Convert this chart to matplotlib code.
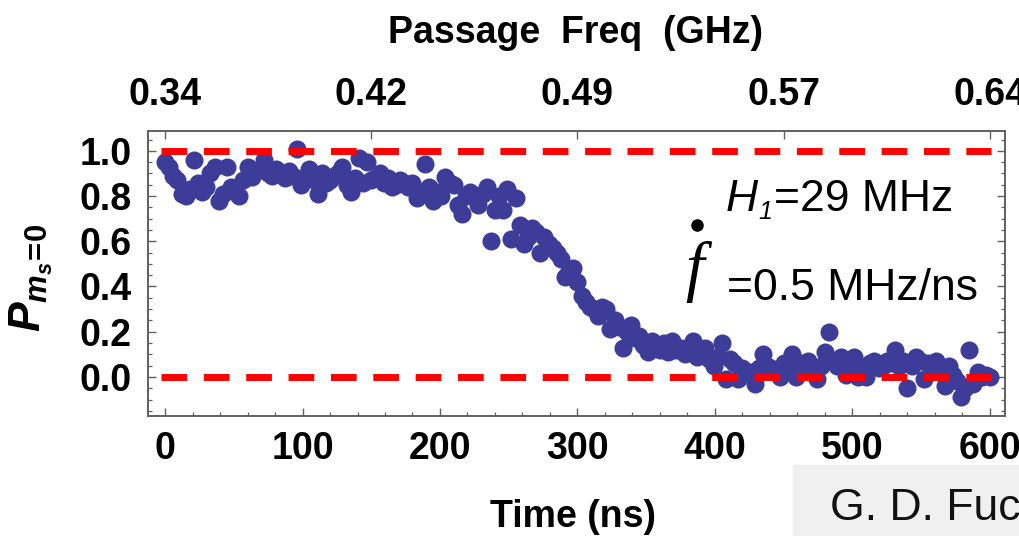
import numpy as np
import matplotlib
matplotlib.use("Agg")
import matplotlib.pyplot as plt
from matplotlib.lines import Line2D
from matplotlib.patches import Rectangle
from matplotlib.ticker import MultipleLocator

# ---------------- data ----------------
time_ns = np.arange(0, 603, 3)
p_ms0 = [
    0.95, 0.93, 0.89, 0.87, 0.81, 0.80, 0.83, 0.96, 0.86, 0.82,
    0.84, 0.90, 0.93, 0.78, 0.81, 0.93, 0.84, 0.82, 0.80, 0.87,
    0.93, 0.885, 0.91, 0.92, 0.96, 0.90, 0.89, 0.92, 0.90, 0.88,
    0.91, 0.89, 1.01, 0.85, 0.885, 0.92, 0.87, 0.81, 0.90, 0.86,
    0.87, 0.89, 0.90, 0.93, 0.85, 0.82, 0.88, 0.97, 0.86, 0.95,
    0.87, 0.88, 0.90, 0.86, 0.88, 0.84, 0.85, 0.87, 0.86, 0.84,
    0.86, 0.79, 0.82, 0.94, 0.84, 0.78, 0.82, 0.80, 0.885, 0.86,
    0.85, 0.76, 0.72, 0.80, 0.82, 0.80, 0.76, 0.81, 0.84, 0.60,
    0.74, 0.80, 0.74, 0.83, 0.61, 0.79, 0.67, 0.59, 0.62, 0.66,
    0.64, 0.55, 0.62, 0.59, 0.57, 0.55, 0.52, 0.44, 0.47, 0.48,
    0.42, 0.36, 0.33, 0.31, 0.30, 0.27, 0.31, 0.30, 0.21, 0.25,
    0.22, 0.13, 0.20, 0.23, 0.17, 0.18, 0.14, 0.11, 0.16, 0.14,
    0.12, 0.15, 0.11, 0.16, 0.12, 0.13, 0.10, 0.11, 0.16, 0.09,
    0.12, 0.13, 0.08, 0.05, 0.09, 0.15, -0.01, 0.08, 0.06, -0.01,
    0.04, 0.02, 0.02, -0.03, 0.04, 0.10, 0.05, 0.04, 0.02, 0.00,
    0.06, 0.03, 0.10, 0.00, 0.06, 0.05, 0.07, 0.03, -0.01, 0.05,
    0.11, 0.20, 0.07, 0.05, 0.09, 0.01, 0.06, 0.09, 0.00, 0.04,
    0.00, 0.06, 0.07, 0.04, 0.05, 0.07, 0.06, 0.12, 0.05, 0.07,
    -0.05, 0.05, 0.09, 0.07, -0.01, 0.06, 0.04, 0.07, 0.02, -0.04,
    0.05, 0.01, -0.02, -0.09, -0.05, 0.12, -0.03, 0.02, 0.00, 0.01,
    0.00,
]
ref_levels = [1.0, 0.0]
x_ticks = [0, 100, 200, 300, 400, 500, 600]
y_ticks = [0.0, 0.2, 0.4, 0.6, 0.8, 1.0]
freq_tick_times = [0, 150, 300, 450, 600]
freq_labels = ["0.34", "0.42", "0.49", "0.57", "0.64"]

# ---------------- fonts ----------------
from matplotlib import font_manager as fm
def has_font(name):
    try:
        fm.findfont(fm.FontProperties(family=name), fallback_to_default=False)
        return True
    except Exception:
        return False

SANS = "Liberation Sans" if has_font("Liberation Sans") else "DejaVu Sans"
SERIF = "Liberation Serif" if has_font("Liberation Serif") else "DejaVu Serif"
plt.rcParams["font.family"] = [SANS, "DejaVu Sans"]
plt.rcParams["mathtext.fontset"] = "custom"
plt.rcParams["mathtext.rm"] = SANS + ":bold"
plt.rcParams["mathtext.bf"] = SANS + ":bold"
plt.rcParams["mathtext.it"] = SANS + ":bold:italic"

W, H = 1020, 536
fig = plt.figure(figsize=(W / 100, H / 100), dpi=100)

# axes box in pixels: left 148, right 1005, top 131, bottom 416
L, R, T, B = 148, 1005, 131, 416
ax = fig.add_axes([L / W, 1 - B / H, (R - L) / W, (B - T) / H])

frame_col = "#606060"
point_col = "#3d3d99"

ax.plot(time_ns, p_ms0, linestyle="none", marker="o", ms=13,
        color=point_col, mec=point_col, mew=0, zorder=2)

for lvl in ref_levels:
    ax.plot([-3, 601], [lvl, lvl], color="#ff0000", lw=5,
            dashes=(3.7, 2.4), solid_capstyle="butt",
            dash_capstyle="butt", zorder=3)

ax.set_xlim(-12.4, 611)
ax.set_ylim(-0.173, 1.088)

ax.set_xticks(x_ticks)
ax.set_xticklabels([str(v) for v in x_ticks])
ax.set_yticks(y_ticks)
ax.set_yticklabels([f"{v:.1f}" for v in y_ticks])
ax.xaxis.set_minor_locator(MultipleLocator(20))
ax.yaxis.set_minor_locator(MultipleLocator(0.05))

for sp in ax.spines.values():
    sp.set_color(frame_col)
    sp.set_linewidth(1.2)

tick_fs = 27
ax.tick_params(axis="both", which="major", direction="in", length=6,
               width=1.0, color=frame_col, labelsize=tick_fs)
ax.tick_params(axis="both", which="minor", direction="in", length=3,
               width=0.9, color=frame_col)
ax.tick_params(axis="x", which="both", top=False, pad=11)
ax.tick_params(axis="y", which="both", right=True, pad=12)
for lab in ax.get_xticklabels() + ax.get_yticklabels():
    lab.set_fontweight("bold")

# top axis
axt = ax.twiny()
axt.set_xlim(ax.get_xlim())
axt.set_xticks(freq_tick_times)
axt.set_xticklabels(freq_labels)
axt.tick_params(axis="x", which="major", direction="in", length=6,
                width=1.0, color=frame_col, labelsize=tick_fs, pad=13)
axt.xaxis.set_minor_locator(plt.NullLocator())
for lab in axt.get_xticklabels():
    lab.set_fontweight("bold")
for sp in axt.spines.values():
    sp.set_color(frame_col)
    sp.set_linewidth(1.2)

# axis labels
fig.text(576 / W, 1 - 33 / H, "Passage  Freq  (GHz)", ha="center",
         va="center", fontsize=27, fontweight="bold")
fig.text(573 / W, 1 - 517 / H, "Time (ns)", ha="center", va="center",
         fontsize=27, fontweight="bold")
fig.text(31 / W, 1 - 278 / H, r"$P_{m_s\!=\!0}$", rotation=90,
         ha="center", va="center", fontsize=32)

# annotations: H1 = 29 MHz
fs_ann = 32
fig.text(726 / W, 1 - 211 / H, "H", ha="left", va="baseline",
         fontsize=fs_ann, style="italic", family=SANS)
fig.text(758 / W, 1 - 219 / H, "1", ha="left", va="baseline",
         fontsize=18, style="italic", family=SANS)
fig.text(774 / W, 1 - 211 / H, "=29 MHz", ha="left", va="baseline",
         fontsize=fs_ann, family=SANS)

# f-dot = 0.5 MHz/ns
fig.add_artist(Line2D([697 / W], [1 - 225 / H], marker="o", ms=8,
                      color="black", transform=fig.transFigure))
fig.text(695 / W, 1 - 289 / H, "f", ha="center", va="baseline",
         fontsize=48, style="italic", family=SERIF)
fig.text(727 / W, 1 - 300 / H, "=0.5 MHz/ns", ha="left", va="baseline",
         fontsize=fs_ann, family=SANS)

# grey credit box at bottom right
fig.add_artist(Rectangle((793 / W, 0), (W - 793) / W, (H - 465) / H,
                         transform=fig.transFigure, color="#f0f0f0",
                         zorder=0))
fig.text(830 / W, 1 - 520 / H, "G. D. Fuchs", ha="left", va="baseline",
         fontsize=32, family=SANS, color="#111111")

fig.savefig("out.png", dpi=100)
